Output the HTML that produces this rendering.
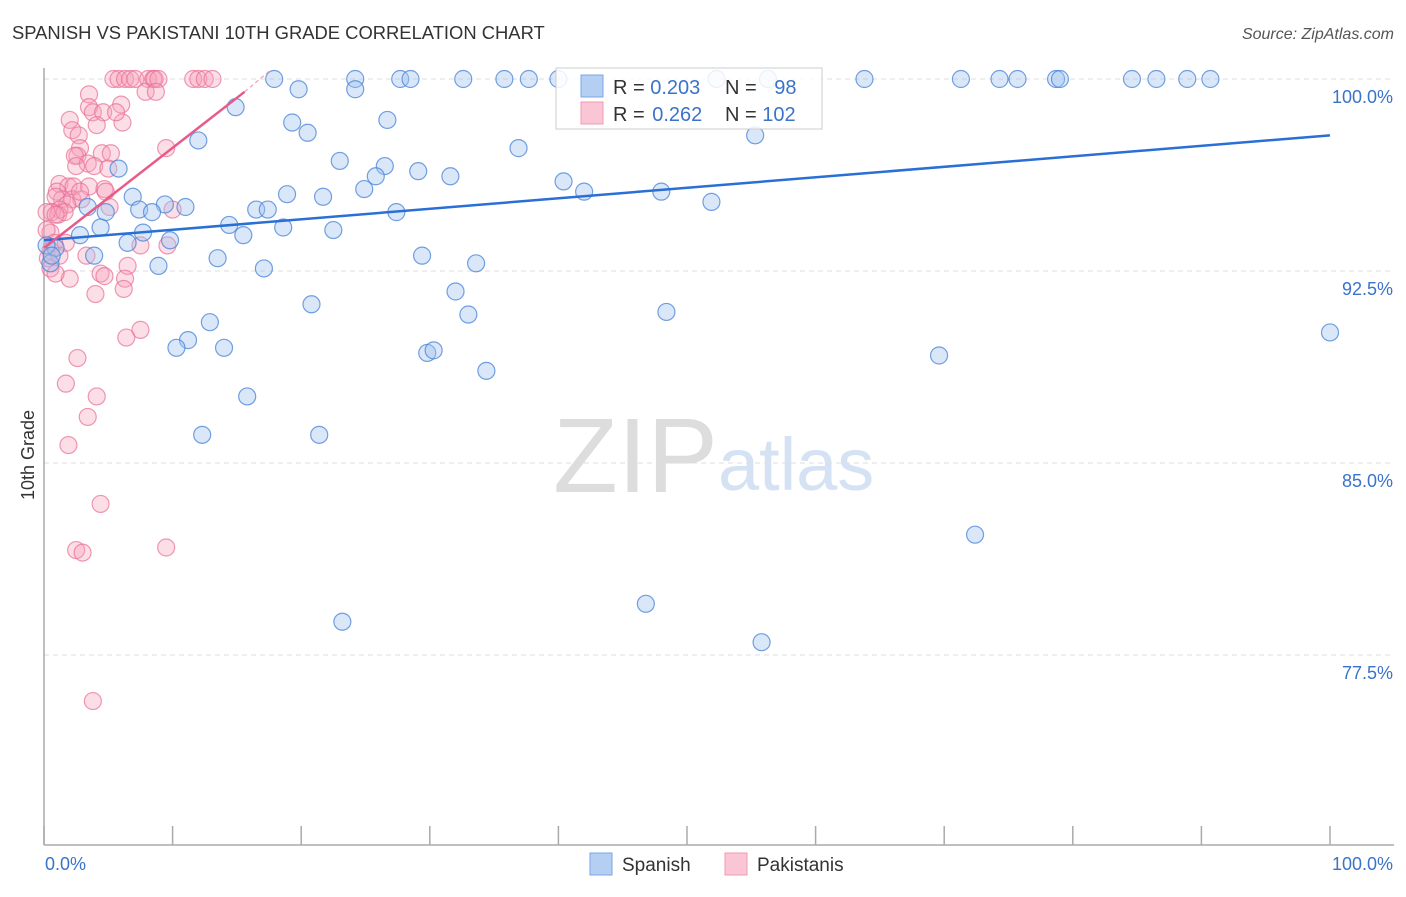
<!DOCTYPE html>
<html><head><meta charset="utf-8"><style>
body{margin:0;background:#fff;font-family:"Liberation Sans",sans-serif;}
svg text{font-family:"Liberation Sans",sans-serif;}
</style></head><body>
<svg id="chart" width="1406" height="892" viewBox="0 0 1406 892" xmlns="http://www.w3.org/2000/svg">
<text x="12" y="39" font-size="18.4" fill="#333">SPANISH VS PAKISTANI 10TH GRADE CORRELATION CHART</text>
<text x="1394" y="39" font-size="16" fill="#555" font-style="italic" text-anchor="end">Source: ZipAtlas.com</text>
<text transform="translate(34,455) rotate(-90)" font-size="18" fill="#333" text-anchor="middle">10th Grade</text>
<g>
<text x="553" y="492" font-size="106" fill="#ddd" font-family="Liberation Serif,serif">ZIP</text>
<text x="718" y="490" font-size="74" fill="#d4e2f4">atlas</text>
</g>
<g id="grid"></g>
<g id="axes"></g>
<g id="marks"></g>
<g>
<rect x="556" y="68" width="266" height="61" fill="#fff" fill-opacity="0.85" stroke="#ccc"/>
<rect x="581" y="75" width="22" height="22" fill="#b5cff3" stroke="#7aa5e6"/>
<rect x="581" y="102" width="22" height="22" fill="#fac6d5" stroke="#f09ab3"/>
<text x="613" y="94" font-size="20" fill="#333">R = <tspan fill="#3a73c9">0.203</tspan></text>
<text x="725" y="94" font-size="20" fill="#333">N = <tspan fill="#3a73c9" dx="12">98</tspan></text>
<text x="613" y="121" font-size="20" fill="#333">R = <tspan fill="#3a73c9" dx="2">0.262</tspan></text>
<text x="725" y="121" font-size="20" fill="#333">N = <tspan fill="#3a73c9">102</tspan></text>
</g>
<g>
<rect x="590" y="853" width="22" height="22" fill="#b5cff3" stroke="#7aa5e6"/>
<text x="622" y="871" font-size="19" fill="#333">Spanish</text>
<rect x="725" y="853" width="22" height="22" fill="#fac6d5" stroke="#f09ab3"/>
<text x="757" y="871" font-size="19" fill="#333">Pakistanis</text>
</g>
</svg>
<script>
const yTicks=[100,92.5,85,77.5];
const yTickLabels=["100.0%","92.5%","85.0%","77.5%"];
const xTickCount=10;
const spanishX=[17.9,24.2,27.7,28.5,32.6,35.8,37.7,40.0,63.8,71.3,74.3,75.7,78.7,79.0,84.6,86.5,88.9,90.7,52.3,56.3,42.8,19.8,14.9,24.2,26.7,19.3,20.5,12.0,36.9,55.3,23.0,26.5,25.8,29.1,31.6,5.8,24.9,40.4,42.0,48.0,18.9,21.7,6.9,9.4,11.0,3.4,51.9,4.8,7.4,8.4,16.5,17.4,27.4,4.4,14.4,18.6,7.7,15.5,22.5,2.8,6.5,9.8,0.9,3.9,13.5,29.4,33.6,8.9,17.1,32.0,20.8,33.0,48.4,12.9,11.2,10.3,14.0,29.8,30.3,69.6,100,34.4,15.8,12.3,21.4,72.4,46.8,23.2,55.8,0.5,0.2,0.6];
const spanishY=[100,100,100,100,100,100,100,100,100,100,100,100,100,100,100,100,100,100,100,100,99.8,99.6,98.9,99.6,98.4,98.3,97.9,97.6,97.3,97.8,96.8,96.6,96.2,96.4,96.2,96.5,95.7,96.0,95.6,95.6,95.5,95.4,95.4,95.1,95.0,95.0,95.2,94.8,94.9,94.8,94.9,94.9,94.8,94.2,94.3,94.2,94.0,93.9,94.1,93.9,93.6,93.7,93.4,93.1,93.0,93.1,92.8,92.7,92.6,91.7,91.2,90.8,90.9,90.5,89.8,89.5,89.5,89.3,89.4,89.2,90.1,88.6,87.6,86.1,86.1,82.2,79.5,78.8,78.0,92.8,93.5,93.1];
const pakX=[5.4,5.8,6.3,6.7,7.1,8.1,8.5,8.6,8.9,11.6,12.0,12.5,13.1,7.9,8.7,3.5,3.5,6.0,3.8,4.6,2.0,2.2,4.1,6.1,5.6,2.7,2.8,9.5,2.6,2.4,4.5,5.2,3.4,3.9,5.0,2.5,1.2,1.9,2.3,1.0,3.5,4.7,4.8,1.4,0.9,2.2,2.9,2.8,1.8,1.2,0.6,1.1,1.6,0.2,0.9,5.1,10.0,0.5,0.2,1.7,0.8,0.5,0.3,1.2,3.3,0.5,9.6,7.5,6.5,4.4,4.7,6.3,2.0,0.9,6.2,4.0,7.5,6.4,2.6,1.7,4.1,3.4,1.9,4.4,2.5,3.0,9.5,3.8];
const pakY=[100,100,100,100,100,100,100,100,100,100,100,100,100,99.5,99.5,99.4,98.9,99.0,98.7,98.7,98.4,98.0,98.2,98.3,98.7,97.8,97.3,97.3,97.0,97.0,97.1,97.1,96.7,96.6,96.5,96.6,95.9,95.8,95.8,95.6,95.8,95.7,95.6,95.3,95.4,95.3,95.3,95.6,95.1,94.9,94.8,94.7,94.8,94.8,94.7,95.0,94.9,94.0,94.1,93.6,93.6,93.3,93.0,93.1,93.1,92.6,93.5,93.5,92.7,92.4,92.3,92.2,92.2,92.4,91.8,91.6,90.2,89.9,89.1,88.1,87.6,86.8,85.7,83.4,81.6,81.5,81.7,75.7];
const spanishTrend=[[0,93.7],[100,97.8]];
const pakTrend=[[0,93.4],[15.6,99.5]];
const pakTrendExt=[[15.6,99.5],[17.5,100.3]];

const NS="http://www.w3.org/2000/svg";
const X0=44,X1=1330,Y100=79,PX=25.6;
function xs(v){return X0+(X1-X0)*v/100;}
function ys(v){return Y100+(100-v)*PX;}
function mk(tag,attrs,parent){const e=document.createElementNS(NS,tag);for(const k in attrs)e.setAttribute(k,attrs[k]);parent.appendChild(e);return e;}
const grid=document.getElementById('grid'),axes=document.getElementById('axes'),marks=document.getElementById('marks');
yTicks.forEach((t,i)=>{
  const l=mk('line',{x1:X0,x2:1394,y1:ys(t),y2:ys(t),stroke:'#ddd','stroke-dasharray':'5,4'},grid);
  
  
  const tx=mk('text',{x:1393,y:ys(t)+24,'font-size':18,fill:'#3a73c9','text-anchor':'end'},grid);
  tx.textContent=yTickLabels[i];
  
  
});
const ax=mk('line',{x1:X0,x2:X0,y1:68,y2:845,stroke:'#aaa','stroke-width':1.5},axes);


const bx=mk('line',{x1:X0,x2:1394,y1:845,y2:845,stroke:'#aaa','stroke-width':1.5},axes);


for(let i=0;i<=xTickCount;i++){
  const t=mk('line',{x1:xs(i*10),x2:xs(i*10),y1:826,y2:845,stroke:'#aaa','stroke-width':1.5},axes);
  
  
}
const xl0=mk('text',{x:45,y:870,'font-size':18,fill:'#3a73c9'},axes);xl0.textContent='0.0%';


const xl1=mk('text',{x:1393,y:870,'font-size':18,fill:'#3a73c9','text-anchor':'end'},axes);xl1.textContent='100.0%';



pakX.forEach((x,i)=>{
  const c=mk('circle',{cx:xs(x),cy:ys(pakY[i]),r:8.5,fill:'rgba(245,160,185,0.35)',stroke:'rgba(232,110,150,0.7)','stroke-width':1.2},marks);
  
  
});
spanishX.forEach((x,i)=>{
  const c=mk('circle',{cx:xs(x),cy:ys(spanishY[i]),r:8.5,fill:'rgba(160,195,240,0.4)',stroke:'rgba(70,130,215,0.75)','stroke-width':1.2},marks);
  
  
});
const bl=mk('line',{x1:xs(spanishTrend[0][0]),y1:ys(spanishTrend[0][1]),x2:xs(spanishTrend[1][0]),y2:ys(spanishTrend[1][1]),stroke:'#2a6fd6','stroke-width':2.5},marks);


const pl=mk('line',{x1:xs(pakTrend[0][0]),y1:ys(pakTrend[0][1]),x2:xs(pakTrend[1][0]),y2:ys(pakTrend[1][1]),stroke:'#e85a88','stroke-width':2.5},marks);


const pe=mk('line',{x1:xs(pakTrendExt[0][0]),y1:ys(pakTrendExt[0][1]),x2:xs(pakTrendExt[1][0]),y2:ys(pakTrendExt[1][1]),stroke:'#f0a0b8','stroke-width':1.2,'stroke-dasharray':'4,3'},marks);


</script>
</body></html>
